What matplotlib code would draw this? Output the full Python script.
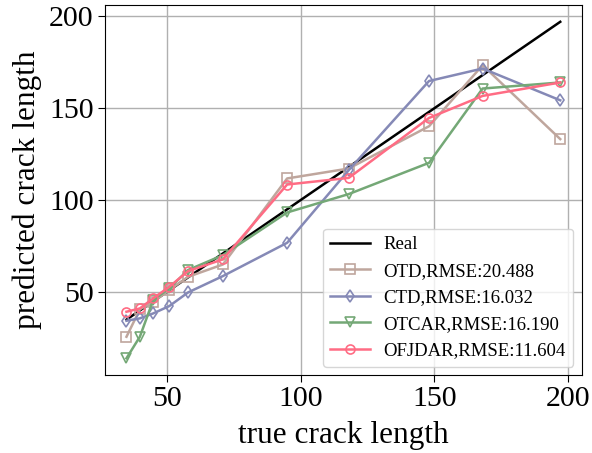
import matplotlib
matplotlib.use("Agg")
import matplotlib.pyplot as plt

true_len = [35, 40, 45, 51, 58, 71, 95, 118, 148, 168, 197]
otd = [25.7, 40.6, 44.7, 51.1, 58.3, 65.0, 111.8, 117.2, 140.2, 173.4, 133.2]
ctd = [34.4, 35.7, 38.4, 42.4, 49.8, 58.7, 76.8, 116.3, 164.8, 171.6, 154.3]
otcar = [14.0, 25.7, 45.7, 52.0, 62.0, 70.1, 93.3, 103.3, 120.3, 160.7, 164.0]
ofjdar = [39.3, 41.1, 46.6, 52.9, 61.4, 67.8, 108.5, 112.1, 144.7, 156.7, 164.0]

labels = ["OTD,RMSE:20.488", "CTD,RMSE:16.032", "OTCAR,RMSE:16.190", "OFJDAR,RMSE:11.604"]
colors = ["#bfa69d", "#8589b6", "#74a876", "#ff6c84"]
markers = ["s", "d", "v", "o"]

plt.rcParams['font.family'] = ['Liberation Serif', 'DejaVu Serif']
plt.rcParams['mathtext.fontset'] = 'stix'

fig = plt.figure(figsize=(5.92, 4.53), dpi=100)
ax = fig.add_axes([0.177, 0.172, 0.806, 0.817])

ax.plot(true_len, true_len, color="black", lw=1.8, label="Real")
for ys, lab, c, m in zip([otd, ctd, otcar, ofjdar], labels, colors, markers):
    ax.plot(true_len, ys, color=c, lw=1.8, marker=m, markersize=6.5,
            markerfacecolor="none", markeredgecolor=c, markeredgewidth=1.2, label=lab)

ax.set_xticks([50, 100, 150, 200])
ax.set_yticks([50, 100, 150, 200])
ax.grid(True, color="#b0b0b0", lw=1.0)
ax.tick_params(labelsize=21.5, length=5, pad=3)
ax.set_xlabel("true crack length", fontsize=22.5, labelpad=6)
ax.set_ylabel("predicted crack length", fontsize=22.5, labelpad=5)
ax.legend(loc="lower right", fontsize=13.5, framealpha=0.8, handlelength=2.1,
          borderpad=0.4, labelspacing=0.5, handletextpad=0.75, borderaxespad=0.45)

fig.savefig("out.png", dpi=100)
